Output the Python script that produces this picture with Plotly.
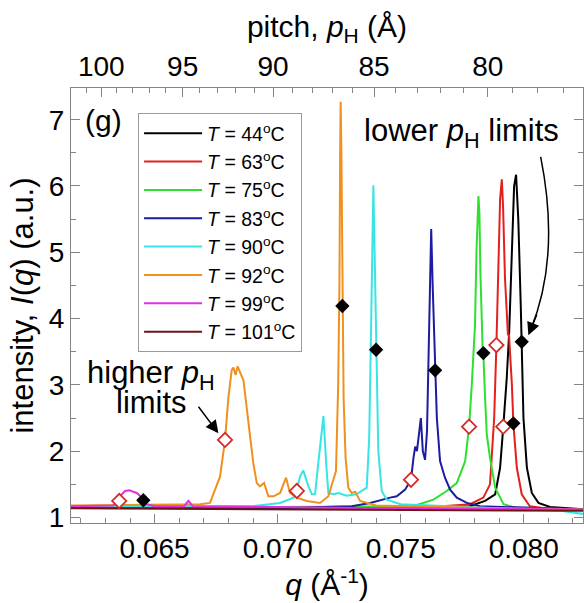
import math
import plotly.graph_objects as go

# ---------------- data ----------------
temps = ["44", "63", "75", "83", "90", "92", "99", "101"]
colors = ["#000000", "#e3201c", "#2ee02e", "#1c1ca0", "#38e4e4", "#f0901e", "#e030e0", "#6e1414"]

q_44 = [0.0616, 0.0700, 0.0760, 0.0778, 0.07843, 0.07884, 0.07904, 0.07917, 0.07931, 0.07941, 0.07952,
        0.07961, 0.07969, 0.07978, 0.07988, 0.07992, 0.07999, 0.08013, 0.08033, 0.08060, 0.08107, 0.0825]
I_44 = [1.16, 1.15, 1.15, 1.17, 1.25, 1.35, 1.75, 2.37, 3.1, 3.8, 5.2,
        6.0, 6.17, 5.5, 4.2, 3.65, 2.5, 1.75, 1.37, 1.22, 1.16, 1.12]

q_63 = [0.0616, 0.0700, 0.0760, 0.07782, 0.07836, 0.07863, 0.07873, 0.07880, 0.07889, 0.07897, 0.07904,
        0.07911, 0.07916, 0.07924, 0.07931, 0.07936, 0.07940, 0.07944, 0.07948, 0.07952, 0.07958, 0.07972,
        0.07992, 0.08025, 0.08107, 0.0825]
I_63 = [1.16, 1.15, 1.15, 1.20, 1.30, 1.5, 2.0, 2.5, 3.6, 5.0, 5.8,
        6.10, 5.7, 4.6, 4.0, 3.75, 3.77, 3.5, 3.30, 3.0, 2.42, 1.75,
        1.35, 1.17, 1.13, 1.11]

q_75 = [0.0616, 0.0700, 0.0755, 0.07633, 0.07687, 0.07728, 0.07762, 0.07778, 0.07789, 0.07796, 0.07802,
        0.07808, 0.07813, 0.07816, 0.07820, 0.07824, 0.07833, 0.07836, 0.07843, 0.07850, 0.07863, 0.07884,
        0.07918, 0.07965, 0.0825]
I_75 = [1.17, 1.16, 1.17, 1.27, 1.40, 1.52, 1.85, 2.37, 3.0, 3.6, 3.9,
        5.0, 5.7, 5.85, 5.6, 4.7, 3.55, 3.47, 2.8, 2.25, 1.90, 1.45,
        1.20, 1.15, 1.12]

q_83 = [0.0616, 0.0700, 0.07301, 0.07376, 0.07457, 0.07484, 0.07518, 0.07542, 0.07552, 0.07559, 0.07566,
        0.07577, 0.07582, 0.07590, 0.07599, 0.07607, 0.07613, 0.07620, 0.07624, 0.07630, 0.07640, 0.07647,
        0.07660, 0.07680, 0.07701, 0.07728, 0.07769, 0.07823, 0.0825]
I_83 = [1.15, 1.14, 1.17, 1.22, 1.30, 1.32, 1.42, 1.57, 1.90, 2.07, 2.0,
        2.4, 2.5, 2.0, 1.87, 2.3, 3.5, 5.0, 5.35, 4.5, 3.22, 2.5,
        1.85, 1.6, 1.42, 1.30, 1.22, 1.17, 1.12]

q_90 = [0.0616, 0.0690, 0.07010, 0.07064, 0.07078, 0.07091, 0.07104, 0.07125, 0.07139, 0.07152, 0.07165,
        0.07186, 0.07197, 0.07206, 0.07226, 0.07247, 0.07280, 0.07320, 0.07362, 0.07372, 0.07378, 0.07384,
        0.07389, 0.07394, 0.07400, 0.07409, 0.07423, 0.07443, 0.0750, 0.0780, 0.0815, 0.0825]
I_90 = [1.17, 1.17, 1.22, 1.30, 1.41, 1.62, 1.71, 1.47, 1.35, 1.35, 1.82,
        2.53, 1.82, 1.37, 1.35, 1.37, 1.33, 1.35, 1.45, 2.2, 3.5, 5.0,
        6.01, 5.0, 3.52, 2.0, 1.40, 1.27, 1.20, 1.15, 1.10, 1.05]

q_92 = [0.0616, 0.0640, 0.0660, 0.06685, 0.06725, 0.06766, 0.06786, 0.06800, 0.06813, 0.06820, 0.06829,
        0.06837, 0.06861, 0.06874, 0.06888, 0.06901, 0.06915, 0.06928, 0.06945, 0.06962, 0.06983, 0.07010,
        0.07034, 0.07050, 0.07078, 0.07118, 0.07172, 0.07206, 0.07237, 0.07246, 0.07251, 0.07254, 0.07256,
        0.07259, 0.07263, 0.07268, 0.07276, 0.07287, 0.07301, 0.07315, 0.07335, 0.0740, 0.0790, 0.0825]
I_92 = [1.18, 1.19, 1.19, 1.20, 1.22, 1.62, 2.17, 2.82, 3.22, 3.26, 3.15,
        3.28, 3.07, 2.62, 2.22, 1.82, 1.52, 1.47, 1.52, 1.32, 1.32, 1.37,
        1.60, 1.37, 1.30, 1.25, 1.22, 1.32, 1.7, 3.0, 4.5, 6.5, 7.27,
        6.5, 4.18, 2.8, 1.9, 1.45, 1.37, 1.39, 1.25, 1.18, 1.14, 1.12]

q_99 = [0.0616, 0.06330, 0.06346, 0.06366, 0.06380, 0.06397, 0.06412, 0.06427, 0.06448, 0.06468, 0.0650,
        0.06620, 0.06637, 0.06655, 0.0700, 0.0740, 0.0825]
I_99 = [1.17, 1.18, 1.22, 1.35, 1.40, 1.41, 1.39, 1.37, 1.30, 1.20, 1.17,
        1.17, 1.25, 1.17, 1.16, 1.14, 1.12]

q_101 = [0.0616, 0.0700, 0.0760, 0.0825]
I_101 = [1.14, 1.12, 1.11, 1.10]

curves_q = [q_44, q_63, q_75, q_83, q_90, q_92, q_99, q_101]
curves_I = [I_44, I_63, I_75, I_83, I_90, I_92, I_99, I_101]

# limit markers
high_q = [0.06356, 0.06786, 0.07078, 0.07542, 0.07778, 0.07889, 0.07917]
high_I = [1.25, 2.17, 1.40, 1.57, 2.37, 3.60, 2.37]
low_q = [0.06454, 0.07263, 0.07400, 0.07640, 0.07836, 0.07958, 0.07992]
low_I = [1.26, 4.19, 3.53, 3.22, 3.48, 2.42, 3.65]

# axes
q_ticks = [0.065, 0.070, 0.075, 0.080]
I_ticks = [1, 2, 3, 4, 5, 6, 7]
pitch_ticks = [100, 95, 90, 85, 80]
pitch_minor = list(range(76, 102))
q_range = [0.0616, 0.08241]
I_range = [0.917, 7.478]

FONT = "Liberation Sans, Arial, sans-serif"
AX = "#858585"

fig = go.Figure()
for t, c, qs, Is in zip(temps, colors, curves_q, curves_I):
    fig.add_trace(go.Scatter(x=qs, y=Is, mode="lines", line=dict(color=c, width=2),
                             name=f"<i>T</i> = {t}<sup>o</sup>C"))

fig.add_trace(go.Scatter(x=high_q, y=high_I, mode="markers", showlegend=False,
                         marker=dict(symbol="diamond", size=11, color="white",
                                     line=dict(color="#d42a2a", width=1.8))))
fig.add_trace(go.Scatter(x=low_q, y=low_I, mode="markers", showlegend=False,
                         marker=dict(symbol="diamond", size=11, color="black",
                                     line=dict(color="black", width=0))))

fig.update_layout(
    width=584, height=603,
    margin=dict(l=71, r=1, t=88, b=80),
    paper_bgcolor="white", plot_bgcolor="white",
    font=dict(family=FONT, size=28, color="black"),
    showlegend=True,
    legend=dict(x=0.131, y=0.9425, xanchor="left", yanchor="top",
                bgcolor="white", bordercolor="#9a9a9a", borderwidth=1,
                font=dict(family=FONT, size=19.5), itemwidth=58, tracegroupgap=0),
    xaxis=dict(range=q_range, tickvals=q_ticks, tickformat=".3f",
               ticks="inside", ticklen=9, tickwidth=1, tickcolor=AX,
               minor=dict(dtick=0.001, tick0=0.065, ticks="inside", ticklen=5, tickcolor=AX),
               showline=True, linecolor=AX, linewidth=1.2, showgrid=False, zeroline=False,
               title=dict(text="<i>q</i> (Å<sup>-1</sup>)", font=dict(size=30), standoff=6),
               automargin=False, tickfont=dict(size=28)),
    xaxis2=dict(range=q_range, overlaying="x", side="top", matches=None,
                tickvals=[2 * math.pi / p for p in pitch_ticks],
                ticktext=[str(p) for p in pitch_ticks],
                ticks="inside", ticklen=9, tickwidth=1, tickcolor=AX,
                minor=dict(tickvals=[2 * math.pi / p for p in pitch_minor], ticks="inside",
                           ticklen=5, tickcolor=AX),
                showline=True, linecolor=AX, linewidth=1.2, showgrid=False, zeroline=False,
                title=dict(text="pitch, <i>p</i><sub>H</sub> (Å)", font=dict(size=30), standoff=4),
                automargin=False, tickfont=dict(size=28)),
    yaxis=dict(range=I_range, tickvals=I_ticks, ticks="inside", ticklen=9, tickwidth=1,
               tickcolor=AX, mirror="ticks",
               minor=dict(dtick=0.5, tick0=1, ticks="inside", ticklen=5, tickcolor=AX),
               showline=True, linecolor=AX, linewidth=1.2, showgrid=False, zeroline=False,
               title=dict(text="intensity, <i>I</i>(<i>q</i>) (a.u.)", font=dict(size=31), standoff=5),
               automargin=False, tickfont=dict(size=28)),
)

# invisible helper so the top axis is drawn
fig.add_trace(go.Scatter(x=[q_range[0]], y=[I_range[0]], xaxis="x2", mode="markers",
                         marker=dict(opacity=0), showlegend=False, hoverinfo="skip"))

ann = [
    dict(text="(g)", xref="paper", yref="paper", x=0.0625, y=0.926, showarrow=False,
         font=dict(size=30), xanchor="center", yanchor="middle"),
    dict(text="lower <i>p</i><sub>H</sub> limits", xref="paper", yref="paper", x=0.763, y=0.8965,
         showarrow=False, font=dict(size=31), xanchor="center", yanchor="middle"),
    dict(text="higher <i>p</i><sub>H</sub>", xref="paper", yref="paper", x=0.156, y=0.34,
         showarrow=False, font=dict(size=31), xanchor="center", yanchor="middle"),
    dict(text="limits", xref="paper", yref="paper", x=0.158, y=0.278,
         showarrow=False, font=dict(size=31), xanchor="center", yanchor="middle"),
    dict(text="", x=0.06759, y=2.27, xref="x", yref="y", ax=-21, ay=-28, showarrow=True,
         arrowhead=2, arrowsize=1.7, arrowwidth=1.5, arrowcolor="black"),
    dict(text="", x=0.08019, y=3.75, xref="x", yref="y", ax=9, ay=-22, showarrow=True,
         arrowhead=2, arrowsize=1.7, arrowwidth=1.5, arrowcolor="black"),
]
fig.update_layout(annotations=ann)
fig.add_shape(type="path", xref="x", yref="y",
              path="M 0.08069,6.44 Q 0.08150,4.93 0.08028,3.83",
              line=dict(color="black", width=1.5))

fig.write_html("out.html")
